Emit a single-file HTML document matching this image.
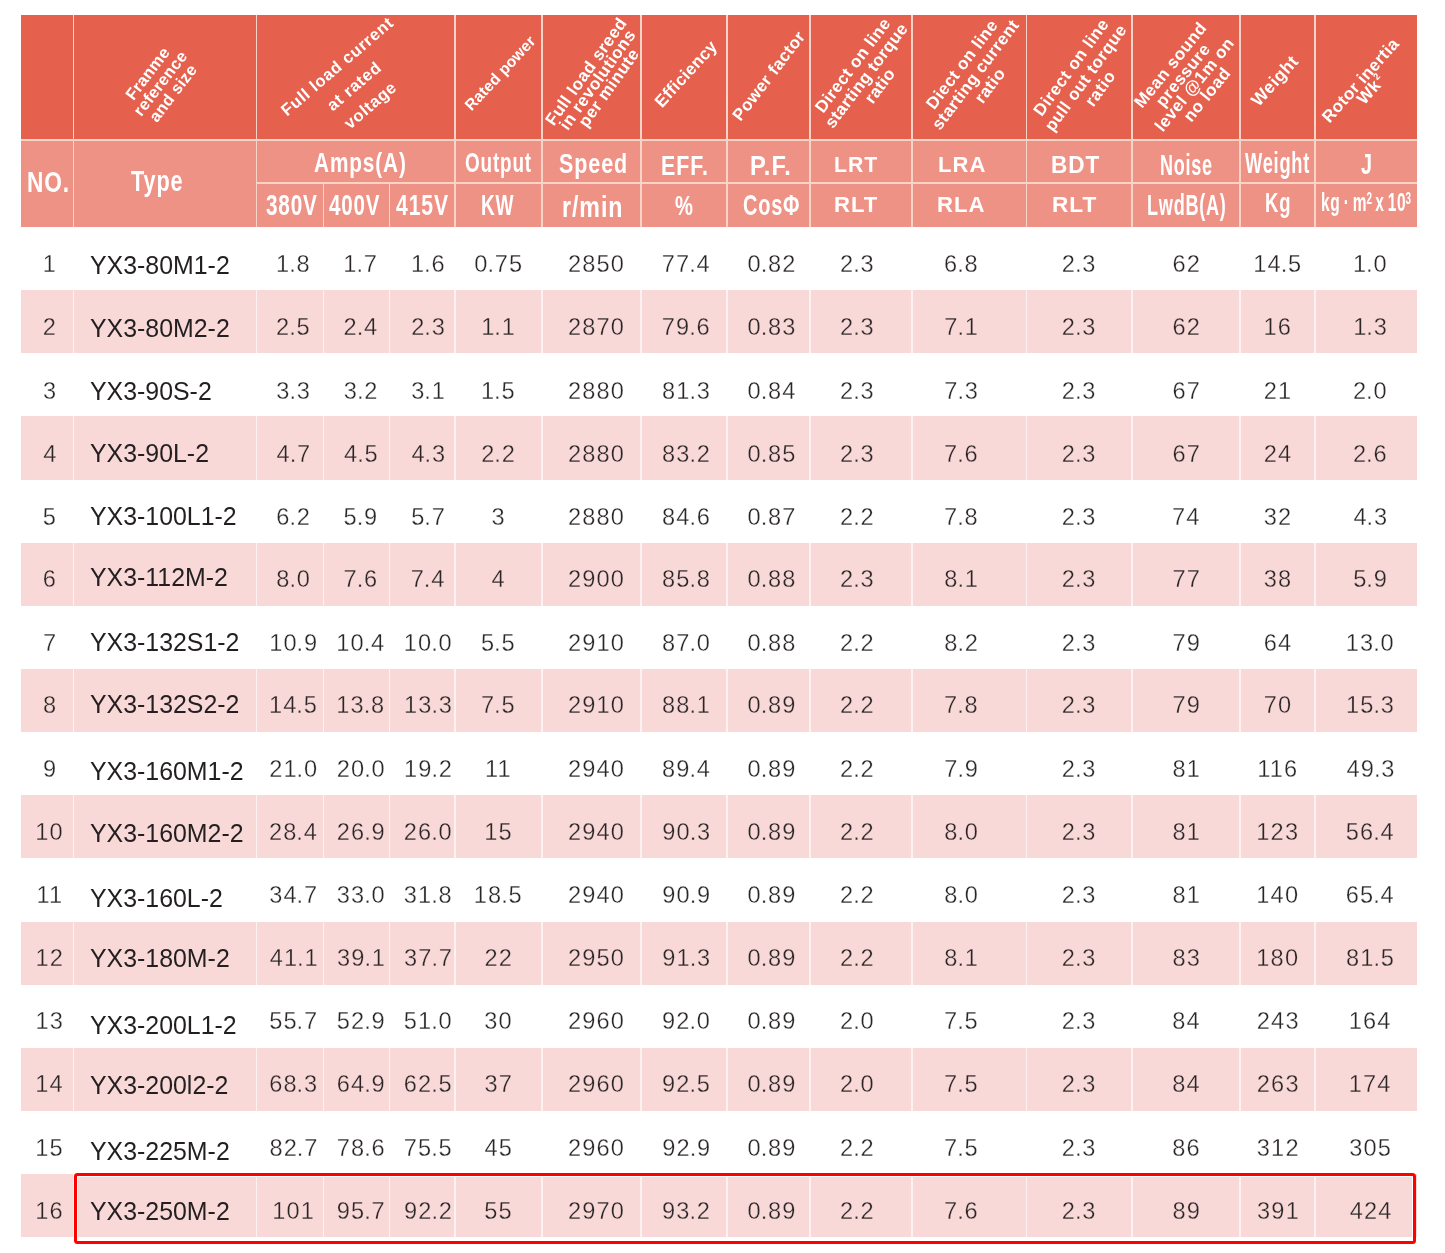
<!DOCTYPE html><html><head><meta charset="utf-8"><title>YX3 series motor technical data</title><style>
html,body{margin:0;padding:0;background:#fff}
body{width:1445px;height:1253px;position:relative;overflow:hidden;font-family:"Liberation Sans",Arial,sans-serif}
.r{position:absolute}
.rt{position:absolute;color:#fff;font-weight:bold;white-space:nowrap;text-align:center}
.rt sup{font-size:55%;vertical-align:0;position:relative;top:-0.75em;margin-left:1px}
.h{position:absolute;color:#fff;font-weight:bold;white-space:nowrap;line-height:1;transform-origin:0 0}
.h sup{font-size:64%;vertical-align:0;position:relative;top:-0.42em;letter-spacing:0;margin-left:-1.5px}
.t{position:absolute;white-space:nowrap;line-height:1;transform-origin:0 0}
.ty{color:#231f20;font-size:26.5px}
.n{color:#2a2526;font-size:23.6px;letter-spacing:1.15px;-webkit-text-stroke:0.3px #fff}
.s .n{-webkit-text-stroke-color:#F9D9D8}
.n i{font-style:normal;letter-spacing:0.8px;margin-left:-1.15px}

</style></head><body>
<div class="r" style="left:21px;top:15px;width:1395.5px;height:124.19999999999999px;background:#E5614D"></div>
<div class="r" style="left:21px;top:139.2px;width:1395.5px;height:87.80000000000001px;background:#EF9286"></div>
<div class="r" style="left:21px;top:139.2px;width:1395.5px;height:1.85px;background:#F8D3C8"></div>
<div class="r" style="left:256.5px;top:182.4px;width:1160.0px;height:1.5px;background:#F8D3C8"></div>
<div class="r" style="left:72.75px;top:15px;width:1.5px;height:212px;background:#F8D3C8"></div>
<div class="r" style="left:255.75px;top:15px;width:1.5px;height:212px;background:#F8D3C8"></div>
<div class="r" style="left:322.75px;top:182.4px;width:1.5px;height:44.599999999999994px;background:#F8D3C8"></div>
<div class="r" style="left:388.75px;top:182.4px;width:1.5px;height:44.599999999999994px;background:#F8D3C8"></div>
<div class="r" style="left:454.25px;top:15px;width:1.5px;height:212px;background:#F8D3C8"></div>
<div class="r" style="left:541.25px;top:15px;width:1.5px;height:212px;background:#F8D3C8"></div>
<div class="r" style="left:640.25px;top:15px;width:1.5px;height:212px;background:#F8D3C8"></div>
<div class="r" style="left:726.25px;top:15px;width:1.5px;height:212px;background:#F8D3C8"></div>
<div class="r" style="left:809.25px;top:15px;width:1.5px;height:212px;background:#F8D3C8"></div>
<div class="r" style="left:911.25px;top:15px;width:1.5px;height:212px;background:#F8D3C8"></div>
<div class="r" style="left:1025.75px;top:15px;width:1.5px;height:212px;background:#F8D3C8"></div>
<div class="r" style="left:1131.25px;top:15px;width:1.5px;height:212px;background:#F8D3C8"></div>
<div class="r" style="left:1239.25px;top:15px;width:1.5px;height:212px;background:#F8D3C8"></div>
<div class="r" style="left:1314.25px;top:15px;width:1.5px;height:212px;background:#F8D3C8"></div>
<div class="r" style="left:21px;top:290.15px;width:1395.5px;height:63.15px;background:#F9D9D8"></div>
<div class="r" style="left:21px;top:416.45px;width:1395.5px;height:63.15px;background:#F9D9D8"></div>
<div class="r" style="left:21px;top:542.75px;width:1395.5px;height:63.15px;background:#F9D9D8"></div>
<div class="r" style="left:21px;top:669.05px;width:1395.5px;height:63.15px;background:#F9D9D8"></div>
<div class="r" style="left:21px;top:795.35px;width:1395.5px;height:63.15px;background:#F9D9D8"></div>
<div class="r" style="left:21px;top:921.65px;width:1395.5px;height:63.15px;background:#F9D9D8"></div>
<div class="r" style="left:21px;top:1047.95px;width:1395.5px;height:63.15px;background:#F9D9D8"></div>
<div class="r" style="left:21px;top:1174.25px;width:1395.5px;height:63.15px;background:#F9D9D8"></div>
<div class="r" style="left:72.6px;top:290.15px;width:1.5px;height:63.15px;background:#FDF1F1"></div>
<div class="r" style="left:255.6px;top:290.15px;width:1.5px;height:63.15px;background:#FDF1F1"></div>
<div class="r" style="left:322.6px;top:290.15px;width:1.5px;height:63.15px;background:#FDF1F1"></div>
<div class="r" style="left:388.6px;top:290.15px;width:1.5px;height:63.15px;background:#FDF1F1"></div>
<div class="r" style="left:454.1px;top:290.15px;width:1.5px;height:63.15px;background:#FDF1F1"></div>
<div class="r" style="left:541.1px;top:290.15px;width:1.5px;height:63.15px;background:#FDF1F1"></div>
<div class="r" style="left:640.1px;top:290.15px;width:1.5px;height:63.15px;background:#FDF1F1"></div>
<div class="r" style="left:726.1px;top:290.15px;width:1.5px;height:63.15px;background:#FDF1F1"></div>
<div class="r" style="left:809.1px;top:290.15px;width:1.5px;height:63.15px;background:#FDF1F1"></div>
<div class="r" style="left:911.1px;top:290.15px;width:1.5px;height:63.15px;background:#FDF1F1"></div>
<div class="r" style="left:1025.6px;top:290.15px;width:1.5px;height:63.15px;background:#FDF1F1"></div>
<div class="r" style="left:1131.1px;top:290.15px;width:1.5px;height:63.15px;background:#FDF1F1"></div>
<div class="r" style="left:1239.1px;top:290.15px;width:1.5px;height:63.15px;background:#FDF1F1"></div>
<div class="r" style="left:1314.1px;top:290.15px;width:1.5px;height:63.15px;background:#FDF1F1"></div>
<div class="r" style="left:72.6px;top:416.45px;width:1.5px;height:63.15px;background:#FDF1F1"></div>
<div class="r" style="left:255.6px;top:416.45px;width:1.5px;height:63.15px;background:#FDF1F1"></div>
<div class="r" style="left:322.6px;top:416.45px;width:1.5px;height:63.15px;background:#FDF1F1"></div>
<div class="r" style="left:388.6px;top:416.45px;width:1.5px;height:63.15px;background:#FDF1F1"></div>
<div class="r" style="left:454.1px;top:416.45px;width:1.5px;height:63.15px;background:#FDF1F1"></div>
<div class="r" style="left:541.1px;top:416.45px;width:1.5px;height:63.15px;background:#FDF1F1"></div>
<div class="r" style="left:640.1px;top:416.45px;width:1.5px;height:63.15px;background:#FDF1F1"></div>
<div class="r" style="left:726.1px;top:416.45px;width:1.5px;height:63.15px;background:#FDF1F1"></div>
<div class="r" style="left:809.1px;top:416.45px;width:1.5px;height:63.15px;background:#FDF1F1"></div>
<div class="r" style="left:911.1px;top:416.45px;width:1.5px;height:63.15px;background:#FDF1F1"></div>
<div class="r" style="left:1025.6px;top:416.45px;width:1.5px;height:63.15px;background:#FDF1F1"></div>
<div class="r" style="left:1131.1px;top:416.45px;width:1.5px;height:63.15px;background:#FDF1F1"></div>
<div class="r" style="left:1239.1px;top:416.45px;width:1.5px;height:63.15px;background:#FDF1F1"></div>
<div class="r" style="left:1314.1px;top:416.45px;width:1.5px;height:63.15px;background:#FDF1F1"></div>
<div class="r" style="left:72.6px;top:542.75px;width:1.5px;height:63.15px;background:#FDF1F1"></div>
<div class="r" style="left:255.6px;top:542.75px;width:1.5px;height:63.15px;background:#FDF1F1"></div>
<div class="r" style="left:322.6px;top:542.75px;width:1.5px;height:63.15px;background:#FDF1F1"></div>
<div class="r" style="left:388.6px;top:542.75px;width:1.5px;height:63.15px;background:#FDF1F1"></div>
<div class="r" style="left:454.1px;top:542.75px;width:1.5px;height:63.15px;background:#FDF1F1"></div>
<div class="r" style="left:541.1px;top:542.75px;width:1.5px;height:63.15px;background:#FDF1F1"></div>
<div class="r" style="left:640.1px;top:542.75px;width:1.5px;height:63.15px;background:#FDF1F1"></div>
<div class="r" style="left:726.1px;top:542.75px;width:1.5px;height:63.15px;background:#FDF1F1"></div>
<div class="r" style="left:809.1px;top:542.75px;width:1.5px;height:63.15px;background:#FDF1F1"></div>
<div class="r" style="left:911.1px;top:542.75px;width:1.5px;height:63.15px;background:#FDF1F1"></div>
<div class="r" style="left:1025.6px;top:542.75px;width:1.5px;height:63.15px;background:#FDF1F1"></div>
<div class="r" style="left:1131.1px;top:542.75px;width:1.5px;height:63.15px;background:#FDF1F1"></div>
<div class="r" style="left:1239.1px;top:542.75px;width:1.5px;height:63.15px;background:#FDF1F1"></div>
<div class="r" style="left:1314.1px;top:542.75px;width:1.5px;height:63.15px;background:#FDF1F1"></div>
<div class="r" style="left:72.6px;top:669.05px;width:1.5px;height:63.15px;background:#FDF1F1"></div>
<div class="r" style="left:255.6px;top:669.05px;width:1.5px;height:63.15px;background:#FDF1F1"></div>
<div class="r" style="left:322.6px;top:669.05px;width:1.5px;height:63.15px;background:#FDF1F1"></div>
<div class="r" style="left:388.6px;top:669.05px;width:1.5px;height:63.15px;background:#FDF1F1"></div>
<div class="r" style="left:454.1px;top:669.05px;width:1.5px;height:63.15px;background:#FDF1F1"></div>
<div class="r" style="left:541.1px;top:669.05px;width:1.5px;height:63.15px;background:#FDF1F1"></div>
<div class="r" style="left:640.1px;top:669.05px;width:1.5px;height:63.15px;background:#FDF1F1"></div>
<div class="r" style="left:726.1px;top:669.05px;width:1.5px;height:63.15px;background:#FDF1F1"></div>
<div class="r" style="left:809.1px;top:669.05px;width:1.5px;height:63.15px;background:#FDF1F1"></div>
<div class="r" style="left:911.1px;top:669.05px;width:1.5px;height:63.15px;background:#FDF1F1"></div>
<div class="r" style="left:1025.6px;top:669.05px;width:1.5px;height:63.15px;background:#FDF1F1"></div>
<div class="r" style="left:1131.1px;top:669.05px;width:1.5px;height:63.15px;background:#FDF1F1"></div>
<div class="r" style="left:1239.1px;top:669.05px;width:1.5px;height:63.15px;background:#FDF1F1"></div>
<div class="r" style="left:1314.1px;top:669.05px;width:1.5px;height:63.15px;background:#FDF1F1"></div>
<div class="r" style="left:72.6px;top:795.35px;width:1.5px;height:63.15px;background:#FDF1F1"></div>
<div class="r" style="left:255.6px;top:795.35px;width:1.5px;height:63.15px;background:#FDF1F1"></div>
<div class="r" style="left:322.6px;top:795.35px;width:1.5px;height:63.15px;background:#FDF1F1"></div>
<div class="r" style="left:388.6px;top:795.35px;width:1.5px;height:63.15px;background:#FDF1F1"></div>
<div class="r" style="left:454.1px;top:795.35px;width:1.5px;height:63.15px;background:#FDF1F1"></div>
<div class="r" style="left:541.1px;top:795.35px;width:1.5px;height:63.15px;background:#FDF1F1"></div>
<div class="r" style="left:640.1px;top:795.35px;width:1.5px;height:63.15px;background:#FDF1F1"></div>
<div class="r" style="left:726.1px;top:795.35px;width:1.5px;height:63.15px;background:#FDF1F1"></div>
<div class="r" style="left:809.1px;top:795.35px;width:1.5px;height:63.15px;background:#FDF1F1"></div>
<div class="r" style="left:911.1px;top:795.35px;width:1.5px;height:63.15px;background:#FDF1F1"></div>
<div class="r" style="left:1025.6px;top:795.35px;width:1.5px;height:63.15px;background:#FDF1F1"></div>
<div class="r" style="left:1131.1px;top:795.35px;width:1.5px;height:63.15px;background:#FDF1F1"></div>
<div class="r" style="left:1239.1px;top:795.35px;width:1.5px;height:63.15px;background:#FDF1F1"></div>
<div class="r" style="left:1314.1px;top:795.35px;width:1.5px;height:63.15px;background:#FDF1F1"></div>
<div class="r" style="left:72.6px;top:921.65px;width:1.5px;height:63.15px;background:#FDF1F1"></div>
<div class="r" style="left:255.6px;top:921.65px;width:1.5px;height:63.15px;background:#FDF1F1"></div>
<div class="r" style="left:322.6px;top:921.65px;width:1.5px;height:63.15px;background:#FDF1F1"></div>
<div class="r" style="left:388.6px;top:921.65px;width:1.5px;height:63.15px;background:#FDF1F1"></div>
<div class="r" style="left:454.1px;top:921.65px;width:1.5px;height:63.15px;background:#FDF1F1"></div>
<div class="r" style="left:541.1px;top:921.65px;width:1.5px;height:63.15px;background:#FDF1F1"></div>
<div class="r" style="left:640.1px;top:921.65px;width:1.5px;height:63.15px;background:#FDF1F1"></div>
<div class="r" style="left:726.1px;top:921.65px;width:1.5px;height:63.15px;background:#FDF1F1"></div>
<div class="r" style="left:809.1px;top:921.65px;width:1.5px;height:63.15px;background:#FDF1F1"></div>
<div class="r" style="left:911.1px;top:921.65px;width:1.5px;height:63.15px;background:#FDF1F1"></div>
<div class="r" style="left:1025.6px;top:921.65px;width:1.5px;height:63.15px;background:#FDF1F1"></div>
<div class="r" style="left:1131.1px;top:921.65px;width:1.5px;height:63.15px;background:#FDF1F1"></div>
<div class="r" style="left:1239.1px;top:921.65px;width:1.5px;height:63.15px;background:#FDF1F1"></div>
<div class="r" style="left:1314.1px;top:921.65px;width:1.5px;height:63.15px;background:#FDF1F1"></div>
<div class="r" style="left:72.6px;top:1047.95px;width:1.5px;height:63.15px;background:#FDF1F1"></div>
<div class="r" style="left:255.6px;top:1047.95px;width:1.5px;height:63.15px;background:#FDF1F1"></div>
<div class="r" style="left:322.6px;top:1047.95px;width:1.5px;height:63.15px;background:#FDF1F1"></div>
<div class="r" style="left:388.6px;top:1047.95px;width:1.5px;height:63.15px;background:#FDF1F1"></div>
<div class="r" style="left:454.1px;top:1047.95px;width:1.5px;height:63.15px;background:#FDF1F1"></div>
<div class="r" style="left:541.1px;top:1047.95px;width:1.5px;height:63.15px;background:#FDF1F1"></div>
<div class="r" style="left:640.1px;top:1047.95px;width:1.5px;height:63.15px;background:#FDF1F1"></div>
<div class="r" style="left:726.1px;top:1047.95px;width:1.5px;height:63.15px;background:#FDF1F1"></div>
<div class="r" style="left:809.1px;top:1047.95px;width:1.5px;height:63.15px;background:#FDF1F1"></div>
<div class="r" style="left:911.1px;top:1047.95px;width:1.5px;height:63.15px;background:#FDF1F1"></div>
<div class="r" style="left:1025.6px;top:1047.95px;width:1.5px;height:63.15px;background:#FDF1F1"></div>
<div class="r" style="left:1131.1px;top:1047.95px;width:1.5px;height:63.15px;background:#FDF1F1"></div>
<div class="r" style="left:1239.1px;top:1047.95px;width:1.5px;height:63.15px;background:#FDF1F1"></div>
<div class="r" style="left:1314.1px;top:1047.95px;width:1.5px;height:63.15px;background:#FDF1F1"></div>
<div class="r" style="left:72.6px;top:1174.25px;width:1.5px;height:63.15px;background:#FDF1F1"></div>
<div class="r" style="left:255.6px;top:1174.25px;width:1.5px;height:63.15px;background:#FDF1F1"></div>
<div class="r" style="left:322.6px;top:1174.25px;width:1.5px;height:63.15px;background:#FDF1F1"></div>
<div class="r" style="left:388.6px;top:1174.25px;width:1.5px;height:63.15px;background:#FDF1F1"></div>
<div class="r" style="left:454.1px;top:1174.25px;width:1.5px;height:63.15px;background:#FDF1F1"></div>
<div class="r" style="left:541.1px;top:1174.25px;width:1.5px;height:63.15px;background:#FDF1F1"></div>
<div class="r" style="left:640.1px;top:1174.25px;width:1.5px;height:63.15px;background:#FDF1F1"></div>
<div class="r" style="left:726.1px;top:1174.25px;width:1.5px;height:63.15px;background:#FDF1F1"></div>
<div class="r" style="left:809.1px;top:1174.25px;width:1.5px;height:63.15px;background:#FDF1F1"></div>
<div class="r" style="left:911.1px;top:1174.25px;width:1.5px;height:63.15px;background:#FDF1F1"></div>
<div class="r" style="left:1025.6px;top:1174.25px;width:1.5px;height:63.15px;background:#FDF1F1"></div>
<div class="r" style="left:1131.1px;top:1174.25px;width:1.5px;height:63.15px;background:#FDF1F1"></div>
<div class="r" style="left:1239.1px;top:1174.25px;width:1.5px;height:63.15px;background:#FDF1F1"></div>
<div class="r" style="left:1314.1px;top:1174.25px;width:1.5px;height:63.15px;background:#FDF1F1"></div>
<div class="rt" style="left:159.7px;top:83.4px;font-size:16.5px;line-height:16.0px;letter-spacing:0.3px;transform:translate(-50%,-50%) rotate(-52.5deg)">Franme<br>reference<br>and size</div>
<div class="rt" style="left:354.4px;top:86.2px;font-size:16.6px;line-height:25.5px;letter-spacing:0.7px;transform:translate(-50%,-50%) rotate(-40.5deg)">Full load current<br>at rated<br>voltage</div>
<div class="rt" style="left:500.0px;top:72.9px;font-size:15.7px;line-height:15px;letter-spacing:0.1px;transform:translate(-50%,-50%) rotate(-47deg)">Rated power</div>
<div class="rt" style="left:598.1px;top:80.1px;font-size:17px;line-height:14.0px;letter-spacing:0.5px;transform:translate(-50%,-50%) rotate(-54.5deg)">Full load sreed<br>in revolutions<br>per minute</div>
<div class="rt" style="left:685.7px;top:74.2px;font-size:17px;line-height:15px;letter-spacing:0.3px;transform:translate(-50%,-50%) rotate(-47.5deg)">Efficiency</div>
<div class="rt" style="left:769.3px;top:76.1px;font-size:16.9px;line-height:15px;letter-spacing:0.45px;transform:translate(-50%,-50%) rotate(-52.5deg)">Power factor</div>
<div class="rt" style="left:867.3px;top:75.6px;font-size:17px;line-height:16.8px;letter-spacing:0.4px;transform:translate(-50%,-50%) rotate(-53deg)">Direct on line<br>starting torque<br>ratio</div>
<div class="rt" style="left:975.8px;top:75.1px;font-size:17px;line-height:17.3px;letter-spacing:0.45px;transform:translate(-50%,-50%) rotate(-53deg)">Diect on line<br>starting current<br>ratio</div>
<div class="rt" style="left:1086.2px;top:78.1px;font-size:17px;line-height:17.8px;letter-spacing:0.55px;transform:translate(-50%,-50%) rotate(-54deg)">Direct on line<br>pull out torque<br>ratio</div>
<div class="rt" style="left:1188.9px;top:80.1px;font-size:17px;line-height:15.6px;letter-spacing:0.5px;transform:translate(-50%,-50%) rotate(-51deg)">Mean sound<br>pressure<br>level @1m on<br>no load</div>
<div class="rt" style="left:1274.9px;top:81.0px;font-size:17.5px;line-height:15px;letter-spacing:0.5px;transform:translate(-50%,-50%) rotate(-48deg)">Weight</div>
<div class="rt" style="left:1367.4px;top:85.5px;font-size:17px;line-height:14px;letter-spacing:0.4px;transform:translate(-50%,-50%) rotate(-48.3deg)">Rotor inertia<br>Wk<sup>2</sup></div>
<div class="h" style="left:26.67px;top:166.60px;font-size:29.65px;letter-spacing:1.2px;transform:scaleX(0.7645)">NO.</div>
<div class="h" style="left:131.42px;top:165.48px;font-size:30.38px;letter-spacing:1.2px;transform:scaleX(0.7133)">Type</div>
<div class="h" style="left:313.56px;top:147.78px;font-size:28.49px;letter-spacing:1.2px;transform:scaleX(0.7298)">Amps(A)</div>
<div class="h" style="left:464.55px;top:149.94px;font-size:26.89px;letter-spacing:1.2px;transform:scaleX(0.7034)">Output</div>
<div class="h" style="left:559.03px;top:149.89px;font-size:27.18px;letter-spacing:1.2px;transform:scaleX(0.7903)">Speed</div>
<div class="h" style="left:266.46px;top:189.55px;font-size:29.36px;letter-spacing:1.2px;transform:scaleX(0.7057)">380V</div>
<div class="h" style="left:329.47px;top:190.59px;font-size:29.07px;letter-spacing:1.2px;transform:scaleX(0.7059)">400V</div>
<div class="h" style="left:396.34px;top:189.55px;font-size:29.36px;letter-spacing:1.2px;transform:scaleX(0.7203)">415V</div>
<div class="h" style="left:481.05px;top:189.55px;font-size:29.36px;letter-spacing:1.2px;transform:scaleX(0.6483)">KW</div>
<div class="h" style="left:561.74px;top:191.55px;font-size:29.36px;letter-spacing:1.2px;transform:scaleX(0.7902)">r/min</div>
<div class="h" style="left:660.83px;top:152.62px;font-size:27.03px;letter-spacing:1.2px;transform:scaleX(0.7918)">EFF.</div>
<div class="h" style="left:674.59px;top:191.66px;font-size:28.05px;letter-spacing:1.2px;transform:scaleX(0.7192)">%</div>
<div class="h" style="left:750.32px;top:152.62px;font-size:27.03px;letter-spacing:1.2px;transform:scaleX(0.8755)">P.F.</div>
<div class="h" style="left:742.80px;top:189.55px;font-size:29.36px;letter-spacing:1.2px;transform:scaleX(0.6793)">Cos&Phi;</div>
<div class="h" style="left:834.44px;top:153.80px;font-size:22.09px;letter-spacing:1.0px;transform:scaleX(0.9615)">LRT</div>
<div class="h" style="left:834.39px;top:193.26px;font-size:22.97px;letter-spacing:1.0px;transform:scaleX(0.9633)">RLT</div>
<div class="h" style="left:937.50px;top:153.80px;font-size:22.09px;letter-spacing:1.0px;transform:scaleX(0.9985)">LRA</div>
<div class="h" style="left:937.49px;top:193.26px;font-size:22.97px;letter-spacing:1.0px;transform:scaleX(0.9636)">RLA</div>
<div class="h" style="left:1050.77px;top:154.49px;font-size:23.4px;letter-spacing:1.0px;transform:scaleX(0.9661)">BDT</div>
<div class="h" style="left:1052.37px;top:193.26px;font-size:22.97px;letter-spacing:1.0px;transform:scaleX(0.9874)">RLT</div>
<div class="h" style="left:1159.60px;top:151.42px;font-size:28.92px;letter-spacing:1.2px;transform:scaleX(0.6216)">Noise</div>
<div class="h" style="left:1146.89px;top:190.72px;font-size:28.92px;letter-spacing:1.2px;transform:scaleX(0.6262)">LwdB(A)</div>
<div class="h" style="left:1245.39px;top:149.24px;font-size:28.78px;letter-spacing:1.2px;transform:scaleX(0.6353)">Weight</div>
<div class="h" style="left:1264.58px;top:188.55px;font-size:27.76px;letter-spacing:1.2px;transform:scaleX(0.6656)">Kg</div>
<div class="h" style="left:1360.51px;top:148.72px;font-size:29.8px;letter-spacing:1.2px;transform:scaleX(0.6644)">J</div>
<div class="h" style="left:1320.53px;top:189.38px;font-size:26.6px;letter-spacing:1.2px;transform:scaleX(0.5817)"><span style="word-spacing:-3px">kg &middot; m<sup>2</sup> x 10<sup>3</sup></span></div>
<div class="t n" style="left:49.80px;top:253.12px;transform:translateX(-50%)">1</div>
<div class="t ty" style="left:90.30px;top:252.07px;transform:scaleX(0.9392)">YX3-80M1-2</div>
<div class="t n" style="left:293.45px;top:253.12px;transform:translateX(-50%)">1<i>.</i>8</div>
<div class="t n" style="left:360.75px;top:253.12px;transform:translateX(-50%)">1<i>.</i>7</div>
<div class="t n" style="left:428.35px;top:253.12px;transform:translateX(-50%)">1<i>.</i>6</div>
<div class="t n" style="left:498.85px;top:253.12px;transform:translateX(-50%)">0<i>.</i>75</div>
<div class="t n" style="left:596.55px;top:253.12px;transform:translateX(-50%)">2850</div>
<div class="t n" style="left:686.25px;top:253.12px;transform:translateX(-50%)">77<i>.</i>4</div>
<div class="t n" style="left:772.05px;top:253.12px;transform:translateX(-50%)">0<i>.</i>82</div>
<div class="t n" style="left:857.40px;top:253.12px;transform:translateX(-50%)">2<i>.</i>3</div>
<div class="t n" style="left:961.50px;top:253.12px;transform:translateX(-50%)">6<i>.</i>8</div>
<div class="t n" style="left:1079.25px;top:253.12px;transform:translateX(-50%)">2<i>.</i>3</div>
<div class="t n" style="left:1186.75px;top:253.12px;transform:translateX(-50%)">62</div>
<div class="t n" style="left:1277.75px;top:253.12px;transform:translateX(-50%)">14<i>.</i>5</div>
<div class="t n" style="left:1370.30px;top:253.12px;transform:translateX(-50%)">1<i>.</i>0</div>
<div class="t n" style="left:49.80px;top:316.32px;transform:translateX(-50%);-webkit-text-stroke-color:#F9D9D8">2</div>
<div class="t ty" style="left:90.30px;top:315.27px;transform:scaleX(0.9392)">YX3-80M2-2</div>
<div class="t n" style="left:293.45px;top:316.32px;transform:translateX(-50%);-webkit-text-stroke-color:#F9D9D8">2<i>.</i>5</div>
<div class="t n" style="left:361.00px;top:316.32px;transform:translateX(-50%);-webkit-text-stroke-color:#F9D9D8">2<i>.</i>4</div>
<div class="t n" style="left:428.60px;top:316.32px;transform:translateX(-50%);-webkit-text-stroke-color:#F9D9D8">2<i>.</i>3</div>
<div class="t n" style="left:498.60px;top:316.32px;transform:translateX(-50%);-webkit-text-stroke-color:#F9D9D8">1<i>.</i>1</div>
<div class="t n" style="left:596.55px;top:316.32px;transform:translateX(-50%);-webkit-text-stroke-color:#F9D9D8">2870</div>
<div class="t n" style="left:686.25px;top:316.32px;transform:translateX(-50%);-webkit-text-stroke-color:#F9D9D8">79<i>.</i>6</div>
<div class="t n" style="left:772.05px;top:316.32px;transform:translateX(-50%);-webkit-text-stroke-color:#F9D9D8">0<i>.</i>83</div>
<div class="t n" style="left:857.40px;top:316.32px;transform:translateX(-50%);-webkit-text-stroke-color:#F9D9D8">2<i>.</i>3</div>
<div class="t n" style="left:961.75px;top:316.32px;transform:translateX(-50%);-webkit-text-stroke-color:#F9D9D8">7<i>.</i>1</div>
<div class="t n" style="left:1079.25px;top:316.32px;transform:translateX(-50%);-webkit-text-stroke-color:#F9D9D8">2<i>.</i>3</div>
<div class="t n" style="left:1186.75px;top:316.32px;transform:translateX(-50%);-webkit-text-stroke-color:#F9D9D8">62</div>
<div class="t n" style="left:1277.75px;top:316.32px;transform:translateX(-50%);-webkit-text-stroke-color:#F9D9D8">16</div>
<div class="t n" style="left:1370.55px;top:316.32px;transform:translateX(-50%);-webkit-text-stroke-color:#F9D9D8">1<i>.</i>3</div>
<div class="t n" style="left:50.05px;top:380.32px;transform:translateX(-50%)">3</div>
<div class="t ty" style="left:90.30px;top:377.57px;transform:scaleX(0.9392)">YX3-90S-2</div>
<div class="t n" style="left:293.70px;top:380.32px;transform:translateX(-50%)">3<i>.</i>3</div>
<div class="t n" style="left:361.25px;top:380.32px;transform:translateX(-50%)">3<i>.</i>2</div>
<div class="t n" style="left:428.60px;top:380.32px;transform:translateX(-50%)">3<i>.</i>1</div>
<div class="t n" style="left:498.35px;top:380.32px;transform:translateX(-50%)">1<i>.</i>5</div>
<div class="t n" style="left:596.55px;top:380.32px;transform:translateX(-50%)">2880</div>
<div class="t n" style="left:686.50px;top:380.32px;transform:translateX(-50%)">81<i>.</i>3</div>
<div class="t n" style="left:772.05px;top:380.32px;transform:translateX(-50%)">0<i>.</i>84</div>
<div class="t n" style="left:857.40px;top:380.32px;transform:translateX(-50%)">2<i>.</i>3</div>
<div class="t n" style="left:961.75px;top:380.32px;transform:translateX(-50%)">7<i>.</i>3</div>
<div class="t n" style="left:1079.25px;top:380.32px;transform:translateX(-50%)">2<i>.</i>3</div>
<div class="t n" style="left:1186.75px;top:380.32px;transform:translateX(-50%)">67</div>
<div class="t n" style="left:1278.00px;top:380.32px;transform:translateX(-50%)">21</div>
<div class="t n" style="left:1370.30px;top:380.32px;transform:translateX(-50%)">2<i>.</i>0</div>
<div class="t n" style="left:50.30px;top:442.82px;transform:translateX(-50%);-webkit-text-stroke-color:#F9D9D8">4</div>
<div class="t ty" style="left:90.30px;top:439.87px;transform:scaleX(0.9392)">YX3-90L-2</div>
<div class="t n" style="left:293.95px;top:442.82px;transform:translateX(-50%);-webkit-text-stroke-color:#F9D9D8">4<i>.</i>7</div>
<div class="t n" style="left:361.50px;top:442.82px;transform:translateX(-50%);-webkit-text-stroke-color:#F9D9D8">4<i>.</i>5</div>
<div class="t n" style="left:428.85px;top:442.82px;transform:translateX(-50%);-webkit-text-stroke-color:#F9D9D8">4<i>.</i>3</div>
<div class="t n" style="left:498.60px;top:442.82px;transform:translateX(-50%);-webkit-text-stroke-color:#F9D9D8">2<i>.</i>2</div>
<div class="t n" style="left:596.55px;top:442.82px;transform:translateX(-50%);-webkit-text-stroke-color:#F9D9D8">2880</div>
<div class="t n" style="left:686.50px;top:442.82px;transform:translateX(-50%);-webkit-text-stroke-color:#F9D9D8">83<i>.</i>2</div>
<div class="t n" style="left:772.05px;top:442.82px;transform:translateX(-50%);-webkit-text-stroke-color:#F9D9D8">0<i>.</i>85</div>
<div class="t n" style="left:857.40px;top:442.82px;transform:translateX(-50%);-webkit-text-stroke-color:#F9D9D8">2<i>.</i>3</div>
<div class="t n" style="left:961.50px;top:442.82px;transform:translateX(-50%);-webkit-text-stroke-color:#F9D9D8">7<i>.</i>6</div>
<div class="t n" style="left:1079.25px;top:442.82px;transform:translateX(-50%);-webkit-text-stroke-color:#F9D9D8">2<i>.</i>3</div>
<div class="t n" style="left:1186.75px;top:442.82px;transform:translateX(-50%);-webkit-text-stroke-color:#F9D9D8">67</div>
<div class="t n" style="left:1278.00px;top:442.82px;transform:translateX(-50%);-webkit-text-stroke-color:#F9D9D8">24</div>
<div class="t n" style="left:1370.30px;top:442.82px;transform:translateX(-50%);-webkit-text-stroke-color:#F9D9D8">2<i>.</i>6</div>
<div class="t n" style="left:49.80px;top:505.72px;transform:translateX(-50%)">5</div>
<div class="t ty" style="left:90.30px;top:502.67px;transform:scaleX(0.9392)">YX3-100L1-2</div>
<div class="t n" style="left:293.70px;top:505.72px;transform:translateX(-50%)">6<i>.</i>2</div>
<div class="t n" style="left:361.00px;top:505.72px;transform:translateX(-50%)">5<i>.</i>9</div>
<div class="t n" style="left:428.60px;top:505.72px;transform:translateX(-50%)">5<i>.</i>7</div>
<div class="t n" style="left:498.60px;top:505.72px;transform:translateX(-50%)">3</div>
<div class="t n" style="left:596.55px;top:505.72px;transform:translateX(-50%)">2880</div>
<div class="t n" style="left:686.50px;top:505.72px;transform:translateX(-50%)">84<i>.</i>6</div>
<div class="t n" style="left:772.05px;top:505.72px;transform:translateX(-50%)">0<i>.</i>87</div>
<div class="t n" style="left:857.40px;top:505.72px;transform:translateX(-50%)">2<i>.</i>2</div>
<div class="t n" style="left:961.50px;top:505.72px;transform:translateX(-50%)">7<i>.</i>8</div>
<div class="t n" style="left:1079.25px;top:505.72px;transform:translateX(-50%)">2<i>.</i>3</div>
<div class="t n" style="left:1186.25px;top:505.72px;transform:translateX(-50%)">74</div>
<div class="t n" style="left:1278.00px;top:505.72px;transform:translateX(-50%)">32</div>
<div class="t n" style="left:1370.80px;top:505.72px;transform:translateX(-50%)">4<i>.</i>3</div>
<div class="t n" style="left:49.80px;top:567.92px;transform:translateX(-50%);-webkit-text-stroke-color:#F9D9D8">6</div>
<div class="t ty" style="left:90.30px;top:564.47px;transform:scaleX(0.9392)">YX3-112M-2</div>
<div class="t n" style="left:293.70px;top:567.92px;transform:translateX(-50%);-webkit-text-stroke-color:#F9D9D8">8<i>.</i>0</div>
<div class="t n" style="left:361.00px;top:567.92px;transform:translateX(-50%);-webkit-text-stroke-color:#F9D9D8">7<i>.</i>6</div>
<div class="t n" style="left:428.10px;top:567.92px;transform:translateX(-50%);-webkit-text-stroke-color:#F9D9D8">7<i>.</i>4</div>
<div class="t n" style="left:498.60px;top:567.92px;transform:translateX(-50%);-webkit-text-stroke-color:#F9D9D8">4</div>
<div class="t n" style="left:596.55px;top:567.92px;transform:translateX(-50%);-webkit-text-stroke-color:#F9D9D8">2900</div>
<div class="t n" style="left:686.50px;top:567.92px;transform:translateX(-50%);-webkit-text-stroke-color:#F9D9D8">85<i>.</i>8</div>
<div class="t n" style="left:772.05px;top:567.92px;transform:translateX(-50%);-webkit-text-stroke-color:#F9D9D8">0<i>.</i>88</div>
<div class="t n" style="left:857.40px;top:567.92px;transform:translateX(-50%);-webkit-text-stroke-color:#F9D9D8">2<i>.</i>3</div>
<div class="t n" style="left:961.75px;top:567.92px;transform:translateX(-50%);-webkit-text-stroke-color:#F9D9D8">8<i>.</i>1</div>
<div class="t n" style="left:1079.25px;top:567.92px;transform:translateX(-50%);-webkit-text-stroke-color:#F9D9D8">2<i>.</i>3</div>
<div class="t n" style="left:1186.75px;top:567.92px;transform:translateX(-50%);-webkit-text-stroke-color:#F9D9D8">77</div>
<div class="t n" style="left:1278.00px;top:567.92px;transform:translateX(-50%);-webkit-text-stroke-color:#F9D9D8">38</div>
<div class="t n" style="left:1370.55px;top:567.92px;transform:translateX(-50%);-webkit-text-stroke-color:#F9D9D8">5<i>.</i>9</div>
<div class="t n" style="left:50.05px;top:631.52px;transform:translateX(-50%)">7</div>
<div class="t ty" style="left:90.30px;top:628.57px;transform:scaleX(0.9392)">YX3-132S1-2</div>
<div class="t n" style="left:293.70px;top:631.52px;transform:translateX(-50%)">10<i>.</i>9</div>
<div class="t n" style="left:360.75px;top:631.52px;transform:translateX(-50%)">10<i>.</i>4</div>
<div class="t n" style="left:428.35px;top:631.52px;transform:translateX(-50%)">10<i>.</i>0</div>
<div class="t n" style="left:498.35px;top:631.52px;transform:translateX(-50%)">5<i>.</i>5</div>
<div class="t n" style="left:596.55px;top:631.52px;transform:translateX(-50%)">2910</div>
<div class="t n" style="left:686.50px;top:631.52px;transform:translateX(-50%)">87<i>.</i>0</div>
<div class="t n" style="left:772.05px;top:631.52px;transform:translateX(-50%)">0<i>.</i>88</div>
<div class="t n" style="left:857.40px;top:631.52px;transform:translateX(-50%)">2<i>.</i>2</div>
<div class="t n" style="left:961.75px;top:631.52px;transform:translateX(-50%)">8<i>.</i>2</div>
<div class="t n" style="left:1079.25px;top:631.52px;transform:translateX(-50%)">2<i>.</i>3</div>
<div class="t n" style="left:1186.75px;top:631.52px;transform:translateX(-50%)">79</div>
<div class="t n" style="left:1278.00px;top:631.52px;transform:translateX(-50%)">64</div>
<div class="t n" style="left:1370.30px;top:631.52px;transform:translateX(-50%)">13<i>.</i>0</div>
<div class="t n" style="left:50.05px;top:694.42px;transform:translateX(-50%);-webkit-text-stroke-color:#F9D9D8">8</div>
<div class="t ty" style="left:90.30px;top:690.77px;transform:scaleX(0.9392)">YX3-132S2-2</div>
<div class="t n" style="left:293.45px;top:694.42px;transform:translateX(-50%);-webkit-text-stroke-color:#F9D9D8">14<i>.</i>5</div>
<div class="t n" style="left:360.75px;top:694.42px;transform:translateX(-50%);-webkit-text-stroke-color:#F9D9D8">13<i>.</i>8</div>
<div class="t n" style="left:428.60px;top:694.42px;transform:translateX(-50%);-webkit-text-stroke-color:#F9D9D8">13<i>.</i>3</div>
<div class="t n" style="left:498.35px;top:694.42px;transform:translateX(-50%);-webkit-text-stroke-color:#F9D9D8">7<i>.</i>5</div>
<div class="t n" style="left:596.55px;top:694.42px;transform:translateX(-50%);-webkit-text-stroke-color:#F9D9D8">2910</div>
<div class="t n" style="left:686.50px;top:694.42px;transform:translateX(-50%);-webkit-text-stroke-color:#F9D9D8">88<i>.</i>1</div>
<div class="t n" style="left:772.05px;top:694.42px;transform:translateX(-50%);-webkit-text-stroke-color:#F9D9D8">0<i>.</i>89</div>
<div class="t n" style="left:857.40px;top:694.42px;transform:translateX(-50%);-webkit-text-stroke-color:#F9D9D8">2<i>.</i>2</div>
<div class="t n" style="left:961.50px;top:694.42px;transform:translateX(-50%);-webkit-text-stroke-color:#F9D9D8">7<i>.</i>8</div>
<div class="t n" style="left:1079.25px;top:694.42px;transform:translateX(-50%);-webkit-text-stroke-color:#F9D9D8">2<i>.</i>3</div>
<div class="t n" style="left:1186.75px;top:694.42px;transform:translateX(-50%);-webkit-text-stroke-color:#F9D9D8">79</div>
<div class="t n" style="left:1278.00px;top:694.42px;transform:translateX(-50%);-webkit-text-stroke-color:#F9D9D8">70</div>
<div class="t n" style="left:1370.55px;top:694.42px;transform:translateX(-50%);-webkit-text-stroke-color:#F9D9D8">15<i>.</i>3</div>
<div class="t n" style="left:50.05px;top:757.52px;transform:translateX(-50%)">9</div>
<div class="t ty" style="left:90.30px;top:757.87px;transform:scaleX(0.9392)">YX3-160M1-2</div>
<div class="t n" style="left:293.70px;top:757.52px;transform:translateX(-50%)">21<i>.</i>0</div>
<div class="t n" style="left:361.25px;top:757.52px;transform:translateX(-50%)">20<i>.</i>0</div>
<div class="t n" style="left:428.60px;top:757.52px;transform:translateX(-50%)">19<i>.</i>2</div>
<div class="t n" style="left:498.35px;top:757.52px;transform:translateX(-50%)">11</div>
<div class="t n" style="left:596.55px;top:757.52px;transform:translateX(-50%)">2940</div>
<div class="t n" style="left:686.50px;top:757.52px;transform:translateX(-50%)">89<i>.</i>4</div>
<div class="t n" style="left:772.05px;top:757.52px;transform:translateX(-50%)">0<i>.</i>89</div>
<div class="t n" style="left:857.40px;top:757.52px;transform:translateX(-50%)">2<i>.</i>2</div>
<div class="t n" style="left:961.75px;top:757.52px;transform:translateX(-50%)">7<i>.</i>9</div>
<div class="t n" style="left:1079.25px;top:757.52px;transform:translateX(-50%)">2<i>.</i>3</div>
<div class="t n" style="left:1186.75px;top:757.52px;transform:translateX(-50%)">81</div>
<div class="t n" style="left:1277.75px;top:757.52px;transform:translateX(-50%)">116</div>
<div class="t n" style="left:1371.05px;top:757.52px;transform:translateX(-50%)">49<i>.</i>3</div>
<div class="t n" style="left:49.55px;top:820.82px;transform:translateX(-50%);-webkit-text-stroke-color:#F9D9D8">10</div>
<div class="t ty" style="left:90.30px;top:820.07px;transform:scaleX(0.9392)">YX3-160M2-2</div>
<div class="t n" style="left:293.45px;top:820.82px;transform:translateX(-50%);-webkit-text-stroke-color:#F9D9D8">28<i>.</i>4</div>
<div class="t n" style="left:361.25px;top:820.82px;transform:translateX(-50%);-webkit-text-stroke-color:#F9D9D8">26<i>.</i>9</div>
<div class="t n" style="left:428.35px;top:820.82px;transform:translateX(-50%);-webkit-text-stroke-color:#F9D9D8">26<i>.</i>0</div>
<div class="t n" style="left:498.60px;top:820.82px;transform:translateX(-50%);-webkit-text-stroke-color:#F9D9D8">15</div>
<div class="t n" style="left:596.55px;top:820.82px;transform:translateX(-50%);-webkit-text-stroke-color:#F9D9D8">2940</div>
<div class="t n" style="left:686.75px;top:820.82px;transform:translateX(-50%);-webkit-text-stroke-color:#F9D9D8">90<i>.</i>3</div>
<div class="t n" style="left:772.05px;top:820.82px;transform:translateX(-50%);-webkit-text-stroke-color:#F9D9D8">0<i>.</i>89</div>
<div class="t n" style="left:857.40px;top:820.82px;transform:translateX(-50%);-webkit-text-stroke-color:#F9D9D8">2<i>.</i>2</div>
<div class="t n" style="left:961.75px;top:820.82px;transform:translateX(-50%);-webkit-text-stroke-color:#F9D9D8">8<i>.</i>0</div>
<div class="t n" style="left:1079.25px;top:820.82px;transform:translateX(-50%);-webkit-text-stroke-color:#F9D9D8">2<i>.</i>3</div>
<div class="t n" style="left:1186.75px;top:820.82px;transform:translateX(-50%);-webkit-text-stroke-color:#F9D9D8">81</div>
<div class="t n" style="left:1277.75px;top:820.82px;transform:translateX(-50%);-webkit-text-stroke-color:#F9D9D8">123</div>
<div class="t n" style="left:1370.30px;top:820.82px;transform:translateX(-50%);-webkit-text-stroke-color:#F9D9D8">56<i>.</i>4</div>
<div class="t n" style="left:49.80px;top:884.02px;transform:translateX(-50%)">11</div>
<div class="t ty" style="left:90.30px;top:885.27px;transform:scaleX(0.9392)">YX3-160L-2</div>
<div class="t n" style="left:293.70px;top:884.02px;transform:translateX(-50%)">34<i>.</i>7</div>
<div class="t n" style="left:361.25px;top:884.02px;transform:translateX(-50%)">33<i>.</i>0</div>
<div class="t n" style="left:428.35px;top:884.02px;transform:translateX(-50%)">31<i>.</i>8</div>
<div class="t n" style="left:498.35px;top:884.02px;transform:translateX(-50%)">18<i>.</i>5</div>
<div class="t n" style="left:596.55px;top:884.02px;transform:translateX(-50%)">2940</div>
<div class="t n" style="left:686.75px;top:884.02px;transform:translateX(-50%)">90<i>.</i>9</div>
<div class="t n" style="left:772.05px;top:884.02px;transform:translateX(-50%)">0<i>.</i>89</div>
<div class="t n" style="left:857.40px;top:884.02px;transform:translateX(-50%)">2<i>.</i>2</div>
<div class="t n" style="left:961.75px;top:884.02px;transform:translateX(-50%)">8<i>.</i>0</div>
<div class="t n" style="left:1079.25px;top:884.02px;transform:translateX(-50%)">2<i>.</i>3</div>
<div class="t n" style="left:1186.75px;top:884.02px;transform:translateX(-50%)">81</div>
<div class="t n" style="left:1277.75px;top:884.02px;transform:translateX(-50%)">140</div>
<div class="t n" style="left:1370.30px;top:884.02px;transform:translateX(-50%)">65<i>.</i>4</div>
<div class="t n" style="left:49.80px;top:946.62px;transform:translateX(-50%);-webkit-text-stroke-color:#F9D9D8">12</div>
<div class="t ty" style="left:90.30px;top:944.67px;transform:scaleX(0.9392)">YX3-180M-2</div>
<div class="t n" style="left:294.20px;top:946.62px;transform:translateX(-50%);-webkit-text-stroke-color:#F9D9D8">41<i>.</i>1</div>
<div class="t n" style="left:361.50px;top:946.62px;transform:translateX(-50%);-webkit-text-stroke-color:#F9D9D8">39<i>.</i>1</div>
<div class="t n" style="left:428.60px;top:946.62px;transform:translateX(-50%);-webkit-text-stroke-color:#F9D9D8">37<i>.</i>7</div>
<div class="t n" style="left:498.85px;top:946.62px;transform:translateX(-50%);-webkit-text-stroke-color:#F9D9D8">22</div>
<div class="t n" style="left:596.55px;top:946.62px;transform:translateX(-50%);-webkit-text-stroke-color:#F9D9D8">2950</div>
<div class="t n" style="left:686.75px;top:946.62px;transform:translateX(-50%);-webkit-text-stroke-color:#F9D9D8">91<i>.</i>3</div>
<div class="t n" style="left:772.05px;top:946.62px;transform:translateX(-50%);-webkit-text-stroke-color:#F9D9D8">0<i>.</i>89</div>
<div class="t n" style="left:857.40px;top:946.62px;transform:translateX(-50%);-webkit-text-stroke-color:#F9D9D8">2<i>.</i>2</div>
<div class="t n" style="left:961.75px;top:946.62px;transform:translateX(-50%);-webkit-text-stroke-color:#F9D9D8">8<i>.</i>1</div>
<div class="t n" style="left:1079.25px;top:946.62px;transform:translateX(-50%);-webkit-text-stroke-color:#F9D9D8">2<i>.</i>3</div>
<div class="t n" style="left:1186.75px;top:946.62px;transform:translateX(-50%);-webkit-text-stroke-color:#F9D9D8">83</div>
<div class="t n" style="left:1277.75px;top:946.62px;transform:translateX(-50%);-webkit-text-stroke-color:#F9D9D8">180</div>
<div class="t n" style="left:1370.55px;top:946.62px;transform:translateX(-50%);-webkit-text-stroke-color:#F9D9D8">81<i>.</i>5</div>
<div class="t n" style="left:49.80px;top:1010.32px;transform:translateX(-50%)">13</div>
<div class="t ty" style="left:90.30px;top:1011.87px;transform:scaleX(0.9392)">YX3-200L1-2</div>
<div class="t n" style="left:293.70px;top:1010.32px;transform:translateX(-50%)">55<i>.</i>7</div>
<div class="t n" style="left:361.25px;top:1010.32px;transform:translateX(-50%)">52<i>.</i>9</div>
<div class="t n" style="left:428.35px;top:1010.32px;transform:translateX(-50%)">51<i>.</i>0</div>
<div class="t n" style="left:498.60px;top:1010.32px;transform:translateX(-50%)">30</div>
<div class="t n" style="left:596.55px;top:1010.32px;transform:translateX(-50%)">2960</div>
<div class="t n" style="left:686.50px;top:1010.32px;transform:translateX(-50%)">92<i>.</i>0</div>
<div class="t n" style="left:772.05px;top:1010.32px;transform:translateX(-50%)">0<i>.</i>89</div>
<div class="t n" style="left:857.40px;top:1010.32px;transform:translateX(-50%)">2<i>.</i>0</div>
<div class="t n" style="left:961.50px;top:1010.32px;transform:translateX(-50%)">7<i>.</i>5</div>
<div class="t n" style="left:1079.25px;top:1010.32px;transform:translateX(-50%)">2<i>.</i>3</div>
<div class="t n" style="left:1186.50px;top:1010.32px;transform:translateX(-50%)">84</div>
<div class="t n" style="left:1278.25px;top:1010.32px;transform:translateX(-50%)">243</div>
<div class="t n" style="left:1370.05px;top:1010.32px;transform:translateX(-50%)">164</div>
<div class="t n" style="left:49.55px;top:1073.22px;transform:translateX(-50%);-webkit-text-stroke-color:#F9D9D8">14</div>
<div class="t ty" style="left:90.30px;top:1072.27px;transform:scaleX(0.9392)">YX3-200l2-2</div>
<div class="t n" style="left:293.70px;top:1073.22px;transform:translateX(-50%);-webkit-text-stroke-color:#F9D9D8">68<i>.</i>3</div>
<div class="t n" style="left:361.25px;top:1073.22px;transform:translateX(-50%);-webkit-text-stroke-color:#F9D9D8">64<i>.</i>9</div>
<div class="t n" style="left:428.35px;top:1073.22px;transform:translateX(-50%);-webkit-text-stroke-color:#F9D9D8">62<i>.</i>5</div>
<div class="t n" style="left:498.85px;top:1073.22px;transform:translateX(-50%);-webkit-text-stroke-color:#F9D9D8">37</div>
<div class="t n" style="left:596.55px;top:1073.22px;transform:translateX(-50%);-webkit-text-stroke-color:#F9D9D8">2960</div>
<div class="t n" style="left:686.50px;top:1073.22px;transform:translateX(-50%);-webkit-text-stroke-color:#F9D9D8">92<i>.</i>5</div>
<div class="t n" style="left:772.05px;top:1073.22px;transform:translateX(-50%);-webkit-text-stroke-color:#F9D9D8">0<i>.</i>89</div>
<div class="t n" style="left:857.40px;top:1073.22px;transform:translateX(-50%);-webkit-text-stroke-color:#F9D9D8">2<i>.</i>0</div>
<div class="t n" style="left:961.50px;top:1073.22px;transform:translateX(-50%);-webkit-text-stroke-color:#F9D9D8">7<i>.</i>5</div>
<div class="t n" style="left:1079.25px;top:1073.22px;transform:translateX(-50%);-webkit-text-stroke-color:#F9D9D8">2<i>.</i>3</div>
<div class="t n" style="left:1186.50px;top:1073.22px;transform:translateX(-50%);-webkit-text-stroke-color:#F9D9D8">84</div>
<div class="t n" style="left:1278.25px;top:1073.22px;transform:translateX(-50%);-webkit-text-stroke-color:#F9D9D8">263</div>
<div class="t n" style="left:1370.05px;top:1073.22px;transform:translateX(-50%);-webkit-text-stroke-color:#F9D9D8">174</div>
<div class="t n" style="left:49.55px;top:1136.52px;transform:translateX(-50%)">15</div>
<div class="t ty" style="left:90.30px;top:1138.37px;transform:scaleX(0.9392)">YX3-225M-2</div>
<div class="t n" style="left:293.95px;top:1136.52px;transform:translateX(-50%)">82<i>.</i>7</div>
<div class="t n" style="left:361.25px;top:1136.52px;transform:translateX(-50%)">78<i>.</i>6</div>
<div class="t n" style="left:428.35px;top:1136.52px;transform:translateX(-50%)">75<i>.</i>5</div>
<div class="t n" style="left:498.85px;top:1136.52px;transform:translateX(-50%)">45</div>
<div class="t n" style="left:596.55px;top:1136.52px;transform:translateX(-50%)">2960</div>
<div class="t n" style="left:686.75px;top:1136.52px;transform:translateX(-50%)">92<i>.</i>9</div>
<div class="t n" style="left:772.05px;top:1136.52px;transform:translateX(-50%)">0<i>.</i>89</div>
<div class="t n" style="left:857.40px;top:1136.52px;transform:translateX(-50%)">2<i>.</i>2</div>
<div class="t n" style="left:961.50px;top:1136.52px;transform:translateX(-50%)">7<i>.</i>5</div>
<div class="t n" style="left:1079.25px;top:1136.52px;transform:translateX(-50%)">2<i>.</i>3</div>
<div class="t n" style="left:1186.50px;top:1136.52px;transform:translateX(-50%)">86</div>
<div class="t n" style="left:1278.25px;top:1136.52px;transform:translateX(-50%)">312</div>
<div class="t n" style="left:1370.55px;top:1136.52px;transform:translateX(-50%)">305</div>
<div class="t n" style="left:49.55px;top:1199.52px;transform:translateX(-50%);-webkit-text-stroke-color:#F9D9D8">16</div>
<div class="t ty" style="left:90.30px;top:1197.67px;transform:scaleX(0.9392)">YX3-250M-2</div>
<div class="t n" style="left:293.70px;top:1199.52px;transform:translateX(-50%);-webkit-text-stroke-color:#F9D9D8">101</div>
<div class="t n" style="left:361.25px;top:1199.52px;transform:translateX(-50%);-webkit-text-stroke-color:#F9D9D8">95<i>.</i>7</div>
<div class="t n" style="left:428.60px;top:1199.52px;transform:translateX(-50%);-webkit-text-stroke-color:#F9D9D8">92<i>.</i>2</div>
<div class="t n" style="left:498.60px;top:1199.52px;transform:translateX(-50%);-webkit-text-stroke-color:#F9D9D8">55</div>
<div class="t n" style="left:596.55px;top:1199.52px;transform:translateX(-50%);-webkit-text-stroke-color:#F9D9D8">2970</div>
<div class="t n" style="left:686.50px;top:1199.52px;transform:translateX(-50%);-webkit-text-stroke-color:#F9D9D8">93<i>.</i>2</div>
<div class="t n" style="left:772.05px;top:1199.52px;transform:translateX(-50%);-webkit-text-stroke-color:#F9D9D8">0<i>.</i>89</div>
<div class="t n" style="left:857.40px;top:1199.52px;transform:translateX(-50%);-webkit-text-stroke-color:#F9D9D8">2<i>.</i>2</div>
<div class="t n" style="left:961.50px;top:1199.52px;transform:translateX(-50%);-webkit-text-stroke-color:#F9D9D8">7<i>.</i>6</div>
<div class="t n" style="left:1079.25px;top:1199.52px;transform:translateX(-50%);-webkit-text-stroke-color:#F9D9D8">2<i>.</i>3</div>
<div class="t n" style="left:1186.75px;top:1199.52px;transform:translateX(-50%);-webkit-text-stroke-color:#F9D9D8">89</div>
<div class="t n" style="left:1278.50px;top:1199.52px;transform:translateX(-50%);-webkit-text-stroke-color:#F9D9D8">391</div>
<div class="t n" style="left:1371.05px;top:1199.52px;transform:translateX(-50%);-webkit-text-stroke-color:#F9D9D8">424</div>
<div class="r" style="left:73.8px;top:1172.6px;width:1342px;height:71.6px;box-sizing:border-box;border:3px solid #FE0000;border-radius:3.5px;box-shadow:inset 0 0 0 1px #fff"></div>
</body></html>
